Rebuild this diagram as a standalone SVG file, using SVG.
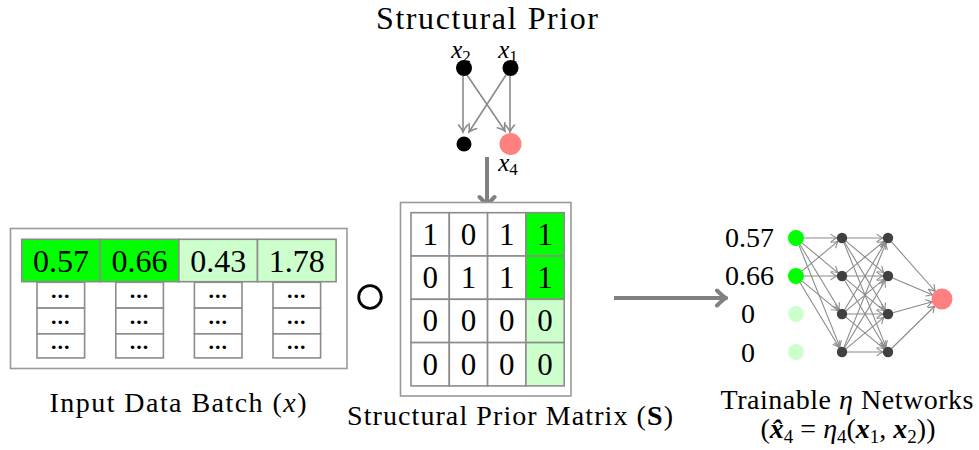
<svg xmlns="http://www.w3.org/2000/svg" width="979" height="450" viewBox="0 0 979 450">
  <style>
    text { font-family: "Liberation Serif", "Times New Roman", serif; fill: #000; }
    .title { font-size: 32px; text-anchor: middle; }
    .lab { font-size: 28px; text-anchor: middle; }
    .num { font-size: 32px; text-anchor: middle; }
    .mnum { font-size: 31px; text-anchor: middle; }
    .nnl { font-size: 28px; }
    .dots { font-size: 22px; font-weight: bold; text-anchor: middle; letter-spacing: 1px; }
    .mi { font-style: italic; }
    .vlab { font-size: 25px; font-style: italic; text-anchor: middle; }
    .sub { font-style: normal; font-size: 17px; }
    .box { fill: #fff; stroke: #9a9a9a; stroke-width: 1.6; }
    .cell { stroke: #8c8c8c; stroke-width: 1.6; }
    .w { fill: #fff; }
    .g { fill: #00ff00; }
    .lg { fill: #ccffcc; }
    .edge { stroke: #8a8a8a; stroke-width: 1.6; fill: none; marker-end: url(#tip); }
    .nn { stroke: #8a8a8a; stroke-width: 1.1; fill: none; marker-end: url(#tipS); }
    .big { stroke: #808080; stroke-width: 4; fill: none; marker-end: url(#tipB); }
    .hid { fill: #404040; }
    .out { fill: #ff8080; }
  </style>
  <defs>
    <marker id="tip" viewBox="-10 -6 12 12" refX="0" refY="0" markerWidth="12" markerHeight="12" markerUnits="userSpaceOnUse" orient="auto">
      <path d="M-7,-4.5 Q-2.5,-0.8 0,0 Q-2.5,0.8 -7,4.5" fill="none" stroke="#8a8a8a" stroke-width="1.6" stroke-linecap="round"/>
    </marker>
    <marker id="tipS" viewBox="-10 -6 12 12" refX="0" refY="0" markerWidth="12" markerHeight="12" markerUnits="userSpaceOnUse" orient="auto">
      <path d="M-6,-3.6 Q-2,-0.6 0,0 Q-2,0.6 -6,3.6" fill="none" stroke="#8a8a8a" stroke-width="1.1" stroke-linecap="round"/>
    </marker>
    <marker id="tipB" viewBox="-14 -10 16 20" refX="0" refY="0" markerWidth="16" markerHeight="20" markerUnits="userSpaceOnUse" orient="auto">
      <path d="M-9,-7.5 Q-3,-1.5 0,0 Q-3,1.5 -9,7.5" fill="none" stroke="#808080" stroke-width="4" stroke-linecap="round"/>
    </marker>
  </defs>

  <!-- Structural prior graph -->
  <text class="title" x="487" y="29" textLength="222" lengthAdjust="spacing">Structural Prior</text>

  <g id="connectors">
    <line class="edge" x1="463" y1="76" x2="463" y2="132"/>
    <line class="edge" x1="467" y1="75" x2="505" y2="131"/>
    <line class="edge" x1="506" y1="75" x2="469" y2="132"/>
    <line class="edge" x1="510" y1="76" x2="510" y2="132"/>
    <!-- prior feeds the mask matrix -->
    <line class="big" x1="487" y1="157" x2="487" y2="206"/>
    <!-- masked batch feeds the networks -->
    <line class="big" x1="614" y1="298" x2="726" y2="298"/>
    <!-- network layer 0 -> 1 -->
    <line class="nn" x1="804" y1="238" x2="837" y2="238"/>
    <line class="nn" x1="802.2" y1="243.1" x2="838.1" y2="272.8"/>
    <line class="nn" x1="800.1" y1="244.8" x2="839.4" y2="309.7"/>
    <line class="nn" x1="799" y1="245.4" x2="840.1" y2="347.4"/>
    <line class="nn" x1="802.2" y1="270.9" x2="838.1" y2="241.2"/>
    <line class="nn" x1="804" y1="276" x2="837" y2="276"/>
    <line class="nn" x1="802.2" y1="281.1" x2="838.1" y2="310.8"/>
    <line class="nn" x1="800.1" y1="282.8" x2="839.4" y2="347.7"/>
    <!-- layer 1 -> 2 -->
    <line class="nn" x1="847" y1="238" x2="883" y2="238"/>
    <line class="nn" x1="845.9" y1="241.2" x2="884.1" y2="272.8"/>
    <line class="nn" x1="844.6" y1="242.3" x2="885.4" y2="309.7"/>
    <line class="nn" x1="843.9" y1="242.6" x2="886.1" y2="347.4"/>
    <line class="nn" x1="845.9" y1="272.8" x2="884.1" y2="241.2"/>
    <line class="nn" x1="847" y1="276" x2="883" y2="276"/>
    <line class="nn" x1="845.9" y1="279.2" x2="884.1" y2="310.8"/>
    <line class="nn" x1="844.6" y1="280.3" x2="885.4" y2="347.7"/>
    <line class="nn" x1="844.6" y1="309.7" x2="885.4" y2="242.3"/>
    <line class="nn" x1="845.9" y1="310.8" x2="884.1" y2="279.2"/>
    <line class="nn" x1="847" y1="314" x2="883" y2="314"/>
    <line class="nn" x1="845.9" y1="317.2" x2="884.1" y2="348.8"/>
    <line class="nn" x1="843.9" y1="347.4" x2="886.1" y2="242.6"/>
    <line class="nn" x1="844.6" y1="347.7" x2="885.4" y2="280.3"/>
    <line class="nn" x1="845.9" y1="348.8" x2="884.1" y2="317.2"/>
    <line class="nn" x1="847" y1="352" x2="883" y2="352"/>
    <!-- layer 2 -> output -->
    <line class="nn" x1="891.3" y1="241.7" x2="935.4" y2="291.5"/>
    <line class="nn" x1="892.6" y1="278" x2="932.8" y2="295.1"/>
    <line class="nn" x1="892.8" y1="312.7" x2="932.4" y2="301.7"/>
    <line class="nn" x1="891.6" y1="348.5" x2="934.9" y2="306"/>
  </g>

  <g id="node-x2">
    <circle cx="464" cy="68" r="8" fill="#000"/>
    <text class="vlab" x="461" y="58">x<tspan class="sub" dy="4">2</tspan></text>
  </g>
  <g id="node-x1">
    <circle cx="510.5" cy="68" r="8" fill="#000"/>
    <text class="vlab" x="508" y="58">x<tspan class="sub" dy="4">1</tspan></text>
  </g>
  <g id="node-x3">
    <circle cx="464" cy="144" r="7.5" fill="#000"/>
  </g>
  <g id="node-x4">
    <circle cx="510.5" cy="144" r="11" class="out"/>
    <text class="vlab" x="508" y="171">x<tspan class="sub" dy="4">4</tspan></text>
  </g>

  <!-- Input data batch -->
  <g id="input-batch">
    <rect class="box" x="10.5" y="228.5" width="336.5" height="140"/>
    <rect class="cell g" x="21.7" y="239.3" width="78.6" height="42.4"/>
    <rect class="cell g" x="100.3" y="239.3" width="78.6" height="42.4"/>
    <rect class="cell lg" x="178.9" y="239.3" width="78.6" height="42.4"/>
    <rect class="cell lg" x="257.5" y="239.3" width="78.6" height="42.4"/>
    <text class="num" x="61" y="272">0.57</text>
    <text class="num" x="139.6" y="272">0.66</text>
    <text class="num" x="218.2" y="272">0.43</text>
    <text class="num" x="296.8" y="272">1.78</text>
    <g class="cell w">
      <rect x="37" y="282.3" width="47.6" height="25.8"/>
      <rect x="37" y="308.1" width="47.6" height="25.8"/>
      <rect x="37" y="333.9" width="47.6" height="24"/>
      <rect x="115.8" y="282.3" width="47.6" height="25.8"/>
      <rect x="115.8" y="308.1" width="47.6" height="25.8"/>
      <rect x="115.8" y="333.9" width="47.6" height="24"/>
      <rect x="194.4" y="282.3" width="47.6" height="25.8"/>
      <rect x="194.4" y="308.1" width="47.6" height="25.8"/>
      <rect x="194.4" y="333.9" width="47.6" height="24"/>
      <rect x="273" y="282.3" width="47.6" height="25.8"/>
      <rect x="273" y="308.1" width="47.6" height="25.8"/>
      <rect x="273" y="333.9" width="47.6" height="24"/>
    </g>
    <g class="dots">
      <text x="60.8" y="298">...</text>
      <text x="60.8" y="324">...</text>
      <text x="60.8" y="349">...</text>
      <text x="139.6" y="298">...</text>
      <text x="139.6" y="324">...</text>
      <text x="139.6" y="349">...</text>
      <text x="218.2" y="298">...</text>
      <text x="218.2" y="324">...</text>
      <text x="218.2" y="349">...</text>
      <text x="296.8" y="298">...</text>
      <text x="296.8" y="324">...</text>
      <text x="296.8" y="349">...</text>
    </g>
    <text class="lab" x="178" y="412" textLength="257" lengthAdjust="spacing">Input Data Batch (<tspan class="mi">x</tspan>)</text>
  </g>

  <!-- Element-wise product operator -->
  <g id="hadamard">
    <circle cx="370" cy="297" r="11.3" fill="none" stroke="#000" stroke-width="2.8"/>
  </g>

  <!-- Structural prior matrix -->
  <g id="prior-matrix">
    <rect class="box" x="400.5" y="202.5" width="170.5" height="193.5"/>
    <g class="cell">
      <rect class="w" x="411" y="212.7" width="38.3" height="43.3"/>
      <rect class="w" x="449.3" y="212.7" width="38.3" height="43.3"/>
      <rect class="w" x="487.6" y="212.7" width="38.3" height="43.3"/>
      <rect class="g" x="525.9" y="212.7" width="38.3" height="43.3"/>
      <rect class="w" x="411" y="256" width="38.3" height="43.3"/>
      <rect class="w" x="449.3" y="256" width="38.3" height="43.3"/>
      <rect class="w" x="487.6" y="256" width="38.3" height="43.3"/>
      <rect class="g" x="525.9" y="256" width="38.3" height="43.3"/>
      <rect class="w" x="411" y="299.3" width="38.3" height="43.3"/>
      <rect class="w" x="449.3" y="299.3" width="38.3" height="43.3"/>
      <rect class="w" x="487.6" y="299.3" width="38.3" height="43.3"/>
      <rect class="lg" x="525.9" y="299.3" width="38.3" height="43.3"/>
      <rect class="w" x="411" y="342.6" width="38.3" height="43.3"/>
      <rect class="w" x="449.3" y="342.6" width="38.3" height="43.3"/>
      <rect class="w" x="487.6" y="342.6" width="38.3" height="43.3"/>
      <rect class="lg" x="525.9" y="342.6" width="38.3" height="43.3"/>
    </g>
    <g class="mnum">
      <text x="430.2" y="245">1</text><text x="468.5" y="245">0</text><text x="506.8" y="245">1</text><text x="545" y="245">1</text>
      <text x="430.2" y="288">0</text><text x="468.5" y="288">1</text><text x="506.8" y="288">1</text><text x="545" y="288">1</text>
      <text x="430.2" y="331">0</text><text x="468.5" y="331">0</text><text x="506.8" y="331">0</text><text x="545" y="331">0</text>
      <text x="430.2" y="375">0</text><text x="468.5" y="375">0</text><text x="506.8" y="375">0</text><text x="545" y="375">0</text>
    </g>
    <text class="lab" x="510" y="425" textLength="326" lengthAdjust="spacing">Structural Prior Matrix (<tspan font-weight="bold">S</tspan>)</text>
  </g>

  <!-- Trainable eta networks -->
  <g id="eta-network">
    <text class="nnl" x="774" y="247" text-anchor="end">0.57</text>
    <text class="nnl" x="774" y="285" text-anchor="end">0.66</text>
    <text class="nnl" x="748" y="323" text-anchor="middle">0</text>
    <text class="nnl" x="748" y="362" text-anchor="middle">0</text>
    <circle cx="796" cy="238" r="8" class="g"/>
    <circle cx="796" cy="276" r="8" class="g"/>
    <circle cx="796" cy="314" r="8" class="lg"/>
    <circle cx="796" cy="352" r="8" class="lg"/>
    <circle cx="842" cy="238" r="5.2" class="hid"/>
    <circle cx="842" cy="276" r="5.2" class="hid"/>
    <circle cx="842" cy="314" r="5.2" class="hid"/>
    <circle cx="842" cy="352" r="5.2" class="hid"/>
    <circle cx="888" cy="238" r="5.2" class="hid"/>
    <circle cx="888" cy="276" r="5.2" class="hid"/>
    <circle cx="888" cy="314" r="5.2" class="hid"/>
    <circle cx="888" cy="352" r="5.2" class="hid"/>
    <circle cx="942" cy="299" r="10.5" class="out"/>
    <text class="lab" x="847" y="409" textLength="253" lengthAdjust="spacing">Trainable <tspan class="mi">η</tspan> Networks</text>
    <text class="lab" x="848" y="438">(<tspan font-weight="bold" font-style="italic">x̂</tspan><tspan font-size="19" dy="5">4</tspan><tspan dy="-5"> = </tspan><tspan class="mi">η</tspan><tspan font-size="19" dy="5">4</tspan><tspan dy="-5">(</tspan><tspan font-weight="bold" font-style="italic">x</tspan><tspan font-size="19" dy="5">1</tspan><tspan dy="-5">, </tspan><tspan font-weight="bold" font-style="italic">x</tspan><tspan font-size="19" dy="5">2</tspan><tspan dy="-5">))</tspan></text>
  </g>
</svg>
